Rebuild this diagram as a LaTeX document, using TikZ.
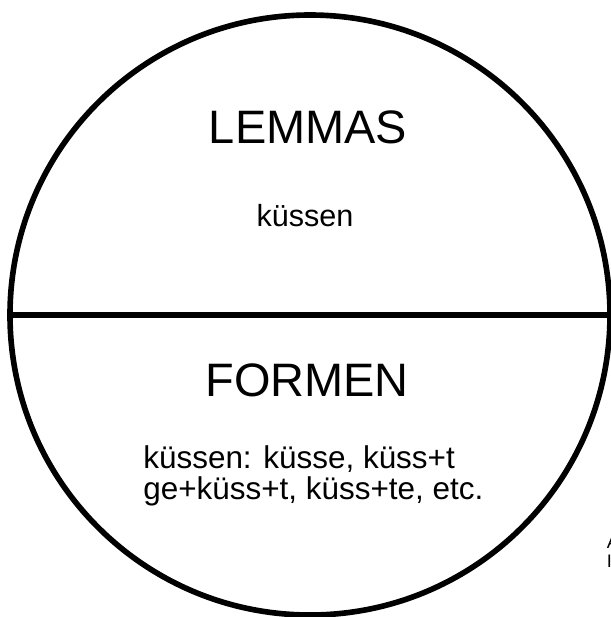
\documentclass[tikz,border=0pt]{standalone}
\usepackage{fontspec}
\setmainfont{Liberation Sans}
\usetikzlibrary{positioning}

\tikzset{
    heading/.style={font=\fontsize{26.7}{32}\selectfont},
    entry/.style={font=\fontsize{17.4}{17.1}\selectfont},
}

\begin{document}
\begin{tikzpicture}
    \useasboundingbox (-6.2, 6.3) rectangle (6.02, -6.04);

    % the lexicon, cut in two halves
    \node[circle, draw, line width=3.2pt, minimum size=12cm, inner sep=0pt] (lexicon) at (0, 0) {};
    \draw[line width=3.2pt] (lexicon.west) -- (lexicon.east);

    \node[heading] (lemmas) at (-0.04, 3.76) {LEMMAS};
    \node[entry] (lemma) at (-0.1, 1.98) {küssen};
    \node[heading] (formen) at (-0.06, -1.3) {FORMEN};
    \node[entry, font=\fontsize{17.9}{17.1}\selectfont, align=left, anchor=base west, inner sep=0pt] (forms) at (-3.34, -3.68)
        {küssen: küsse, küss+t\\ge+küss+t, küss+te, etc.};

    % text running off the right edge
    \node[font=\fontsize{10.3}{10.8}\selectfont, align=left, anchor=base west, inner sep=0pt] (margin) at (5.93, -5.04) {A\\I};
\end{tikzpicture}
\end{document}
